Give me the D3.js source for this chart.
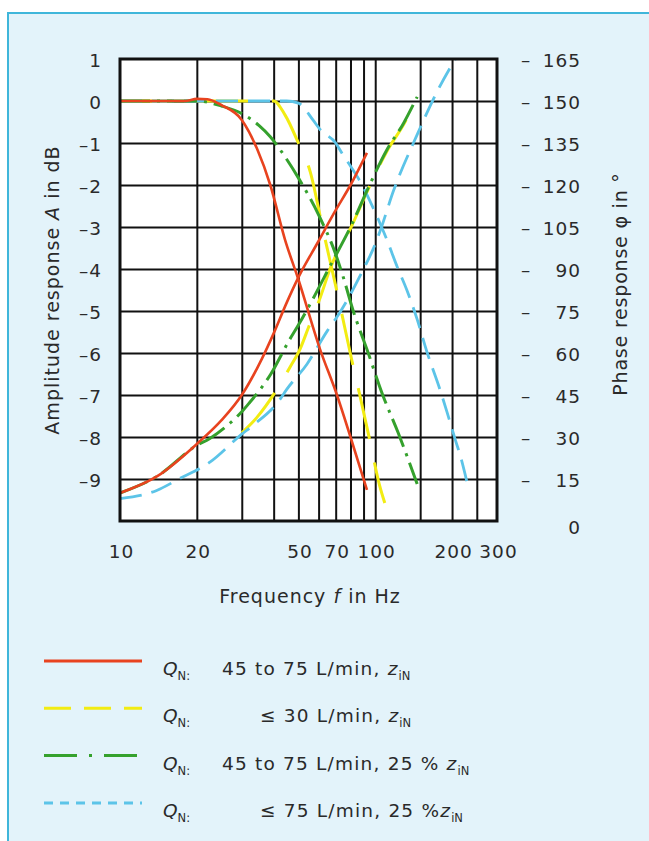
<!DOCTYPE html>
<html>
<head>
<meta charset="utf-8">
<script src="https://cdn.jsdelivr.net/npm/d3@7"></script>
<style>
  body { margin: 0; background: #fff; }
  svg { display: block; font-family: "DejaVu Sans", "Liberation Sans", Arial, sans-serif; }
  text { fill: #2a2a2a; }
</style>
</head>
<body>
<svg id="chart" width="649" height="841"></svg>
<script>
// ---- data ----
const freqTicks = [10, 20, 50, 70, 100, 200, 300];
const freqGrid = [20, 30, 40, 50, 60, 70, 80, 90, 100, 150, 200, 250];
const ampTicks = [1, 0, -1, -2, -3, -4, -5, -6, -7, -8, -9];
const ampGrid = [0, -1, -2, -3, -4, -5, -6, -7, -8, -9];
const phaseTicks = [165, 150, 135, 120, 105, 90, 75, 60, 45, 30, 15, 0];

// [frequency Hz, amplitude dB]
const redAmp = [[10,0],[18,0],[20,0.05],[22,0.04],[25,-0.1],[30,-0.45],[34.5,-1.15],[38.8,-2.0],[44.3,-3.3],[50,-4.25],[60.7,-5.9],[70.8,-7.0],[80,-8.0],[92.8,-9.26]];
const yellowAmp = [[10,0],[40,0],[44.3,-0.33],[50,-1.0],[55.6,-1.68],[62.6,-3.1],[71.8,-4.7],[80.8,-6.15],[87,-7.0],[95,-8.05],[104,-9.15],[109,-9.57]];
const greenAmp = [[10,0],[20,0],[25,-0.12],[30,-0.3],[35,-0.58],[38.8,-0.85],[44,-1.3],[50,-1.83],[60,-2.71],[70,-3.65],[75,-4.2],[82,-5.0],[93,-5.93],[107,-7.0],[123,-7.9],[146,-9.12]];
const blueAmp = [[10,0],[45,0],[50,-0.05],[57,-0.45],[61,-0.69],[70,-1.0],[74,-1.24],[81,-1.6],[87,-1.9],[95,-2.36],[111,-3.3],[122,-3.95],[133,-4.5],[146,-5.2],[159,-5.95],[180,-6.9],[191,-7.4],[206,-8.07],[216,-8.47],[231,-9.18]];

// [frequency Hz, phase degrees]
const redPhase = [[10,10],[14,16],[20,27.5],[25,36],[30,45],[36,58],[40,67],[45,78],[50,87],[60,100],[70,111],[80,120],[92.8,131.5]];
const yellowPhase = [[30,31.5],[34.4,37],[41.2,47],[46.4,55],[50.8,61.5],[54.7,69],[61,80],[66.5,90],[81,105.5],[95,119.5],[111,132],[129,141.5],[145,150.5]];
const greenPhase = [[10,10],[14,16],[20,27],[22.5,29.5],[27,35],[30,39],[32,42],[39,52.5],[46,64.5],[50,70],[56,78],[66.5,91],[81,106],[95,120],[111,132.5],[129,142],[146,151.5]];
const bluePhase = [[10,8],[14,11],[17,15],[22.5,21],[30,31],[33,34],[42,43],[45,47],[54,56],[65,68],[71,73],[80,81],[90,90],[98,97],[104,103],[118,118],[146,138],[174,153],[206,165]];

const legendRates = ["45 to 75 L/min, ", "\u2264 30 L/min, ", "45 to 75 L/min, 25 % ", "\u2264 75 L/min, 25 %"];

// ---- layout ----
const plot = { left: 120, right: 497, top: 59, bottom: 521 };
const styles = {
    red:    { color: "#e8431f", width: 2.6, dash: null,       legendDash: null },
    yellow: { color: "#f2ec12", width: 3,   dash: "52,24",    legendDash: "27,13" },
    green:  { color: "#35a12d", width: 3,   dash: "30,7,3,7", legendDash: "33,12,3,12" },
    blue:   { color: "#5cc4e8", width: 2.8, dash: "22,10",    legendDash: "9,7" }
};

const svg = d3.select("#chart");

// panel
svg.append("rect")
    .attr("x", 8).attr("y", 13)
    .attr("width", 700).attr("height", 850)
    .attr("fill", "#e3f3fa")
    .attr("stroke", "#3fb6da")
    .attr("stroke-width", 2);

svg.append("rect")
    .attr("x", plot.left).attr("y", plot.top)
    .attr("width", plot.right - plot.left).attr("height", plot.bottom - plot.top)
    .attr("fill", "#fff");

const x = d3.scaleLog().domain([10, 300]).range([plot.left, plot.right]);
const yA = d3.scaleLinear().domain([-10, 1]).range([plot.bottom, plot.top]);
const yP = d3.scaleLinear().domain([0, 165]).range([plot.bottom, plot.top]);

// grid
svg.append("g")
    .attr("transform", `translate(0,${plot.bottom})`)
    .call(d3.axisBottom(x).tickValues(freqGrid).tickSize(-(plot.bottom - plot.top)).tickFormat(""))
    .call(g => g.select(".domain").remove())
    .selectAll("line").attr("stroke", "#111").attr("stroke-width", 2);

svg.append("g")
    .attr("transform", `translate(${plot.left},0)`)
    .call(d3.axisLeft(yA).tickValues(ampGrid).tickSize(-(plot.right - plot.left)).tickFormat(""))
    .call(g => g.select(".domain").remove())
    .selectAll("line").attr("stroke", "#111").attr("stroke-width", 2);

// curves
const series = [
    { data: yellowAmp, y: yA, s: styles.yellow },
    { data: yellowPhase, y: yP, s: styles.yellow },
    { data: blueAmp, y: yA, s: styles.blue },
    { data: bluePhase, y: yP, s: styles.blue },
    { data: greenAmp, y: yA, s: styles.green },
    { data: greenPhase, y: yP, s: styles.green },
    { data: redAmp, y: yA, s: styles.red },
    { data: redPhase, y: yP, s: styles.red }
];

series.forEach(d => {
    const line = d3.line()
        .x(p => x(p[0]))
        .y(p => d.y(p[1]))
        .curve(d3.curveMonotoneX);
    svg.append("path")
        .datum(d.data)
        .attr("d", line)
        .attr("fill", "none")
        .attr("stroke", d.s.color)
        .attr("stroke-width", d.s.width)
        .attr("stroke-dasharray", d.s.dash);
});

// frame
svg.append("rect")
    .attr("x", plot.left).attr("y", plot.top)
    .attr("width", plot.right - plot.left).attr("height", plot.bottom - plot.top)
    .attr("fill", "none")
    .attr("stroke", "#111")
    .attr("stroke-width", 3);

// axes labels
function styleTicks(g) {
    g.attr("font-size", null).attr("font-family", null);
    g.select(".domain").remove();
    g.selectAll("text")
        .style("font-size", "18.5px")
        .style("letter-spacing", "1px")
        .attr("fill", "#2a2a2a");
}

svg.append("g")
    .attr("transform", `translate(${plot.left},0)`)
    .call(d3.axisLeft(yA).tickValues(ampTicks).tickSize(0).tickPadding(18)
        .tickFormat(d => d < 0 ? "\u2013" + (-d) : d))
    .call(styleTicks)
    .selectAll("text").attr("dy", "0.42em");

const right = svg.append("g")
    .attr("transform", `translate(${plot.right},0)`)
    .call(d3.axisRight(yP).tickValues(phaseTicks).tickSize(0).tickFormat(d => d))
    .call(styleTicks);
right.selectAll("text").attr("x", 84).attr("text-anchor", "end").attr("dy", "0.38em");
right.selectAll(".tick").filter(d => d > 0)
    .append("text")
    .attr("x", 24).attr("dy", "0.36em")
    .style("font-size", "18.5px")
    .attr("fill", "#2a2a2a")
    .text("\u2013");
right.selectAll(".tick").filter(d => d === 0)
    .select("text").attr("dy", "0.7em");

svg.append("g")
    .attr("transform", `translate(0,${plot.bottom})`)
    .call(d3.axisBottom(x).tickValues(freqTicks).tickSize(0).tickPadding(24).tickFormat(d => d))
    .call(styleTicks)
    .selectAll("text").attr("dx", "1px");

// axis titles
const yTitle = svg.append("text")
    .attr("transform", "translate(59,290) rotate(-90)")
    .attr("text-anchor", "middle")
    .style("font-size", "19px")
    .style("letter-spacing", "1px");
yTitle.append("tspan").text("Amplitude response ");
yTitle.append("tspan").style("font-style", "italic").text("A");
yTitle.append("tspan").text(" in dB");

const pTitle = svg.append("text")
    .attr("transform", "translate(627,284) rotate(-90)")
    .attr("text-anchor", "middle")
    .style("font-size", "19px")
    .style("letter-spacing", "0.8px");
pTitle.append("tspan").text("Phase response \u03c6 in  \u00b0");

const xTitle = svg.append("text")
    .attr("x", 310).attr("y", 603)
    .attr("text-anchor", "middle")
    .style("font-size", "19px")
    .style("letter-spacing", "1px");
xTitle.append("tspan").text("Frequency ");
xTitle.append("tspan").style("font-style", "italic").text("f");
xTitle.append("tspan").text(" in Hz");

// legend
const legendKeys = ["red", "yellow", "green", "blue"];
const legendTextX = [222, 260, 222, 260];
const legend = svg.selectAll(".legend")
    .data(legendKeys)
    .enter()
    .append("g")
    .attr("class", "legend")
    .attr("transform", (d, i) => `translate(0, ${675 + i * 47.3})`);

legend.append("line")
    .attr("x1", 44).attr("x2", 142)
    .attr("y1", -14).attr("y2", -14)
    .attr("stroke", d => styles[d].color)
    .attr("stroke-width", 3)
    .attr("stroke-dasharray", d => styles[d].legendDash);

const q = legend.append("text")
    .attr("x", 163)
    .style("font-size", "18.5px");
q.append("tspan").style("font-style", "italic").text("Q");
q.append("tspan").attr("dy", 5).style("font-size", "11.5px").text("N:");

const lt = legend.append("text")
    .attr("x", (d, i) => legendTextX[i])
    .style("font-size", "18.5px")
    .style("letter-spacing", "1.2px");
lt.append("tspan").text((d, i) => legendRates[i]);
lt.append("tspan").style("font-style", "italic").text("z");
lt.append("tspan").attr("dy", 5).style("font-size", "11.5px").style("letter-spacing", "0px").text("iN");
</script>
</body>
</html>
